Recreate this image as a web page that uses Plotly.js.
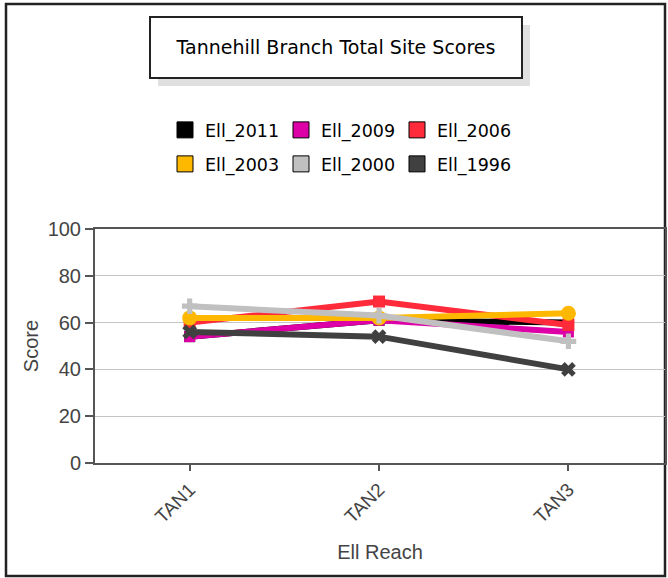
<!DOCTYPE html>
<html>
<head>
<meta charset="utf-8">
<script src="https://cdn.plot.ly/plotly-3.0.1.min.js"></script>
<style>
  html, body { margin: 0; padding: 0; background: #fff; }
  #chart { width: 668px; height: 578px; }
</style>
</head>
<body>
<div id="chart"></div>
<script>
// ---- data ----
const reaches = ["TAN1", "TAN2", "TAN3"];
const seriesNames = ["Ell_2011", "Ell_2009", "Ell_2006", "Ell_2003", "Ell_2000", "Ell_1996"];
const ell2011 = [54, 61, 60];
const ell2009 = [54, 61, 56];
const ell2006 = [60, 69, 59];
const ell2003 = [62, 62, 64];
const ell2000 = [67, 63, 52];
const ell1996 = [56, 54, 40];
const yTicks = [0, 20, 40, 60, 80, 100];

// ---- styles ----
const seriesValues = [ell2011, ell2009, ell2006, ell2003, ell2000, ell1996];
const colors = ["#000000", "#DD00A6", "#FF2A3A", "#FFB800", "#C0C0C0", "#404040"];
const symbols = ["square", "square", "square", "circle", "cross", "x"];
const markerSizes = [11, 11, 12, 15, 13, 13];
const FONT = "DejaVu Sans, Liberation Sans, Arial, sans-serif";
const AXFONT = "Liberation Sans, Arial, sans-serif";

const traces = [];
seriesValues.forEach((vals, i) => {
  traces.push({
    type: "scatter", mode: "lines+markers",
    name: seriesNames[i], x: reaches, y: vals,
    line: { color: colors[i], width: 6 },
    marker: { color: colors[i], symbol: symbols[i], size: markerSizes[i] },
    showlegend: false, hoverinfo: "x+y+name"
  });
});
// legend entries (square swatches)
seriesNames.forEach((nm, i) => {
  traces.push({
    type: "scatter", mode: "markers", name: nm,
    x: [null], y: [null],
    marker: { color: colors[i], symbol: "square", size: 16, line: { color: "#000", width: 1 } },
    legend: i < 3 ? "legend" : "legend2",
    showlegend: true
  });
});

// plot-area pixel geometry helpers (plot area: x 95..665, y 229..463)
const PL = 95, PR = 665, PT = 229, PB = 463;
const px = v => (v - PL) / (PR - PL);
const py = v => (PB - v) / (PB - PT);

const legendCommon = {
  orientation: "h", xref: "paper", yref: "paper",
  xanchor: "left", yanchor: "middle",
  entrywidth: 71, entrywidthmode: "pixels",
  font: { family: FONT, size: 17.5, color: "#000" },
  bgcolor: "rgba(0,0,0,0)", borderwidth: 0,
  itemclick: false, itemdoubleclick: false
};

const layout = {
  width: 668, height: 578,
  margin: { l: PL, r: 668 - PR, t: PT, b: 578 - PB },
  paper_bgcolor: "#ffffff", plot_bgcolor: "#ffffff",
  font: { family: FONT, color: "#444" },
  title: {
    text: "Tannehill Branch Total Site Scores",
    font: { family: FONT, size: 19, color: "#000" },
    xref: "container", yref: "container",
    x: 336 / 668, y: 1 - 47.5 / 578, xanchor: "center", yanchor: "middle"
  },
  xaxis: {
    type: "category", range: [-0.5, 2.51],
    showline: true, mirror: true, linecolor: "#555", linewidth: 2,
    ticks: "outside", ticklen: 6, tickwidth: 2, tickcolor: "#555",
    tickangle: -45, showgrid: false, zeroline: false,
    tickfont: { family: AXFONT, size: 19, color: "#444" },
    title: { text: "Ell Reach", font: { family: AXFONT, size: 20, color: "#444" }, standoff: 19 }
  },
  yaxis: {
    range: [0, 100], tickvals: yTicks, ticktext: yTicks.map(String),
    showline: true, mirror: true, linecolor: "#555", linewidth: 2,
    ticks: "outside", ticklen: 8, tickwidth: 2, tickcolor: "#555",
    showgrid: true, gridcolor: "#c4c4c4", gridwidth: 1, zeroline: false,
    tickfont: { family: AXFONT, size: 20, color: "#444" },
    title: { text: "Score", font: { family: AXFONT, size: 20, color: "#444" }, standoff: 4 }
  },
  legend: Object.assign({}, legendCommon, { x: px(165), y: py(130) }),
  legend2: Object.assign({}, legendCommon, { x: px(165), y: py(164) }),
  shapes: [
    // outer frame
    { type: "rect", xref: "paper", yref: "paper", x0: px(6), x1: px(665), y0: py(576), y1: py(4),
      line: { color: "#222", width: 2.5 }, fillcolor: "rgba(0,0,0,0)", layer: "below" },
    // title box shadow
    { type: "rect", xref: "paper", yref: "paper", x0: px(158), x1: px(530), y0: py(86), y1: py(25),
      line: { width: 0 }, fillcolor: "#e0e0e0", layer: "below" },
    // title box
    { type: "rect", xref: "paper", yref: "paper", x0: px(150), x1: px(522), y0: py(78), y1: py(17),
      line: { color: "#222", width: 2 }, fillcolor: "#ffffff", layer: "below" }
  ]
};

Plotly.newPlot("chart", traces, layout, { staticPlot: true, displayModeBar: false });
</script>
</body>
</html>
